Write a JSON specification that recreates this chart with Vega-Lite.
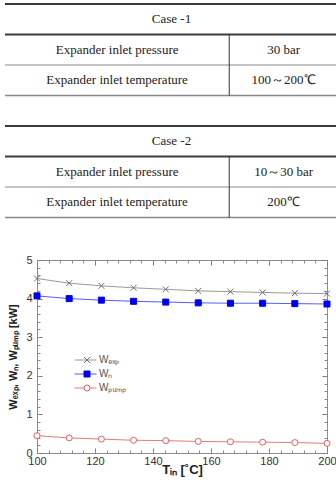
{
  "$schema": "https://vega.github.io/schema/vega-lite/v6.json",
  "padding": {"left": 3, "top": 0, "right": 0, "bottom": 0},
  "spacing": 28,
  "config": {"view": {"stroke": null}, "font": "Liberation Sans"},
  "resolve": {
    "scale": {"color": "independent", "shape": "independent", "fill": "independent", "stroke": "independent"},
    "legend": {"color": "independent", "shape": "independent", "fill": "independent", "stroke": "independent"}
  },
  "datasets": {
    "edges": [
      {"edge": 0, "kind": "heavy"}, {"edge": 1, "kind": "heavy"}, {"edge": 2, "kind": "light"}, {"edge": 3, "kind": "closing"},
      {"edge": 4, "kind": "heavy"}, {"edge": 5, "kind": "heavy"}, {"edge": 6, "kind": "light"}, {"edge": 7, "kind": "closing"}
    ],
    "dividers": [{"from": 1, "to": 3}, {"from": 5, "to": 7}],
    "cells": [
      {"row": 0, "col": "caption", "text": "Case -1"},
      {"row": 1, "col": "name", "text": "Expander inlet pressure"},
      {"row": 1, "col": "value", "text": "30 bar"},
      {"row": 2, "col": "name", "text": "Expander inlet temperature"},
      {"row": 2, "col": "value", "text": "100～200℃"},
      {"row": 4, "col": "caption", "text": "Case -2"},
      {"row": 5, "col": "name", "text": "Expander inlet pressure"},
      {"row": 5, "col": "value", "text": "10～30 bar"},
      {"row": 6, "col": "name", "text": "Expander inlet temperature"},
      {"row": 6, "col": "value", "text": "200℃"}
    ],
    "power": [
      {"T": 100, "series": "Wₑₓₚ", "W": 4.52}, {"T": 111.1, "series": "Wₑₓₚ", "W": 4.40}, {"T": 122.2, "series": "Wₑₓₚ", "W": 4.33},
      {"T": 133.3, "series": "Wₑₓₚ", "W": 4.28}, {"T": 144.4, "series": "Wₑₓₚ", "W": 4.24}, {"T": 155.6, "series": "Wₑₓₚ", "W": 4.20},
      {"T": 166.7, "series": "Wₑₓₚ", "W": 4.18}, {"T": 177.8, "series": "Wₑₓₚ", "W": 4.16}, {"T": 188.9, "series": "Wₑₓₚ", "W": 4.14},
      {"T": 200, "series": "Wₑₓₚ", "W": 4.13},
      {"T": 100, "series": "Wₙ", "W": 4.07}, {"T": 111.1, "series": "Wₙ", "W": 4.00}, {"T": 122.2, "series": "Wₙ", "W": 3.96},
      {"T": 133.3, "series": "Wₙ", "W": 3.93}, {"T": 144.4, "series": "Wₙ", "W": 3.91}, {"T": 155.6, "series": "Wₙ", "W": 3.89},
      {"T": 166.7, "series": "Wₙ", "W": 3.88}, {"T": 177.8, "series": "Wₙ", "W": 3.88}, {"T": 188.9, "series": "Wₙ", "W": 3.87},
      {"T": 200, "series": "Wₙ", "W": 3.86},
      {"T": 100, "series": "Wₚᵤₘₚ", "W": 0.45}, {"T": 111.1, "series": "Wₚᵤₘₚ", "W": 0.39}, {"T": 122.2, "series": "Wₚᵤₘₚ", "W": 0.36},
      {"T": 133.3, "series": "Wₚᵤₘₚ", "W": 0.33}, {"T": 144.4, "series": "Wₚᵤₘₚ", "W": 0.32}, {"T": 155.6, "series": "Wₚᵤₘₚ", "W": 0.30},
      {"T": 166.7, "series": "Wₚᵤₘₚ", "W": 0.29}, {"T": 177.8, "series": "Wₚᵤₘₚ", "W": 0.28}, {"T": 188.9, "series": "Wₚᵤₘₚ", "W": 0.27},
      {"T": 200, "series": "Wₚᵤₘₚ", "W": 0.25}
    ]
  },
  "vconcat": [
    {
      "width": 301,
      "height": 225,
      "layer": [
        {
          "data": {"name": "edges"},
          "transform": [{"filter": "datum.kind === 'heavy'"}],
          "mark": {"type": "rule", "color": "#3a3a3a", "strokeWidth": 2},
          "encoding": {
            "x": {"datum": 0, "type": "quantitative", "scale": {"domain": [0.2883, 3], "nice": false, "zero": false}, "axis": null},
            "x2": {"datum": 3},
            "y": {"field": "edge", "type": "quantitative", "scale": {"domain": [-0.1311, 7.246], "reverse": true, "nice": false, "zero": false}, "axis": null}
          }
        },
        {
          "data": {"name": "edges"},
          "transform": [{"filter": "datum.kind === 'light'"}],
          "mark": {"type": "rule", "color": "#8a8a8a", "strokeWidth": 1},
          "encoding": {
            "x": {"datum": 0, "type": "quantitative"},
            "x2": {"datum": 3},
            "y": {"field": "edge", "type": "quantitative"}
          }
        },
        {
          "data": {"name": "edges"},
          "transform": [{"filter": "datum.kind === 'closing'"}],
          "mark": {"type": "rule", "color": "#888888", "strokeWidth": 1.6},
          "encoding": {
            "x": {"datum": 0, "type": "quantitative"},
            "x2": {"datum": 3},
            "y": {"field": "edge", "type": "quantitative"}
          }
        },
        {
          "data": {"name": "dividers"},
          "mark": {"type": "rule", "color": "#333333", "strokeWidth": 1},
          "encoding": {
            "x": {"datum": 2.02, "type": "quantitative"},
            "y": {"field": "from", "type": "quantitative"},
            "y2": {"field": "to"}
          }
        },
        {
          "data": {"name": "cells"},
          "transform": [{"filter": "datum.col === 'caption'"}],
          "mark": {"type": "text", "font": "Liberation Serif", "fontSize": 13, "color": "#222222", "align": "center", "baseline": "middle", "dy": 15.5},
          "encoding": {
            "x": {"datum": 1.5, "type": "quantitative"},
            "y": {"field": "row", "type": "quantitative"},
            "text": {"field": "text"}
          }
        },
        {
          "data": {"name": "cells"},
          "transform": [{"filter": "datum.col === 'name'"}],
          "mark": {"type": "text", "font": "Liberation Serif", "fontSize": 13, "color": "#222222", "align": "center", "baseline": "middle", "dy": 15.5},
          "encoding": {
            "x": {"datum": 1.01, "type": "quantitative"},
            "y": {"field": "row", "type": "quantitative"},
            "text": {"field": "text"}
          }
        },
        {
          "data": {"name": "cells"},
          "transform": [{"filter": "datum.col === 'value'"}],
          "mark": {"type": "text", "font": "Liberation Serif", "fontSize": 13, "color": "#222222", "align": "center", "baseline": "middle", "dy": 15.5},
          "encoding": {
            "x": {"datum": 2.51, "type": "quantitative"},
            "y": {"field": "row", "type": "quantitative"},
            "text": {"field": "text"}
          }
        }
      ]
    },
    {
      "width": 290,
      "height": 193,
      "view": {"stroke": "#8c8c8c", "strokeWidth": 1},
      "data": {"name": "power"},
      "resolve": {"axis": {"x": "independent", "y": "independent"}},
      "layer": [
        {
          "mark": {"type": "line", "strokeWidth": 1},
          "encoding": {
            "x": {"field": "T", "type": "quantitative", "scale": {"domain": [100, 200], "nice": false, "zero": false},
              "axis": {"orient": "bottom", "values": [100, 120, 140, 160, 180, 200], "format": "d", "tickSize": -5, "tickColor": "#777777", "domain": false, "grid": false,
                "labelFont": "Liberation Sans", "labelFontSize": 11, "labelColor": "#333333", "labelPadding": 7, "labelFlush": false, "labelOverlap": false,
                "title": "Tᵢₙ [˚C]", "titleFont": "Liberation Sans", "titleFontSize": 13, "titleFontWeight": "bold", "titleColor": "#222222", "titlePadding": -3}},
            "y": {"field": "W", "type": "quantitative", "scale": {"domain": [0, 5], "nice": false, "zero": false},
              "axis": {"orient": "left", "values": [0, 1, 2, 3, 4, 5], "tickSize": -5, "tickColor": "#777777", "domain": false, "grid": false,
                "labelFont": "Liberation Sans", "labelFontSize": 11, "labelColor": "#333333", "labelPadding": 10, "labelFlush": false, "labelOverlap": false,
                "title": "Wₑₓₚ,  Wₙ,  Wₚᵤₘₚ [kW]", "titleFont": "Liberation Sans", "titleFontSize": 11, "titleFontWeight": "bold", "titleColor": "#222222", "titlePadding": 7}},
            "color": {"field": "series", "type": "nominal",
              "scale": {"domain": ["Wₑₓₚ", "Wₙ", "Wₚᵤₘₚ"], "range": ["#9a9a9a", "#5a5aff", "#e67a7a"]},
              "legend": {"title": null, "orient": "none", "legendX": 37, "legendY": 95, "symbolType": "stroke", "symbolSize": 484, "symbolStrokeWidth": 1,
                "clipHeight": 10, "labelFont": "Liberation Sans", "labelFontSize": 10, "labelColor": "#555555", "labelOffset": 2, "rowPadding": 4, "padding": 0}}
          }
        },
        {
          "mark": {"type": "point", "filled": true, "size": 36, "strokeWidth": 1, "opacity": 1},
          "encoding": {
            "x": {"field": "T", "type": "quantitative",
              "axis": {"orient": "top", "values": [100, 120, 140, 160, 180, 200], "tickSize": -5, "tickColor": "#777777", "domain": false, "grid": false, "labels": false, "title": null}},
            "y": {"field": "W", "type": "quantitative",
              "axis": {"orient": "right", "values": [0, 1, 2, 3, 4, 5], "tickSize": -5, "tickColor": "#777777", "domain": false, "grid": false, "labels": false, "title": null}},
            "shape": {"field": "series", "type": "nominal",
              "scale": {"range": ["M-1,-1L1,1M-1,1L1,-1", "square", "circle"]},
              "legend": {"title": null, "orient": "none", "legendX": 37, "legendY": 95, "symbolSize": 36, "symbolStrokeWidth": 1, "symbolOffset": 8,
                "clipHeight": 10, "labelFontSize": 10, "labelExpr": "' '", "labelOffset": 2, "rowPadding": 4, "padding": 0, "zindex": 1}},
            "fill": {"field": "series", "type": "nominal", "scale": {"range": ["transparent", "#0000ee", "#ffffff"]}},
            "stroke": {"field": "series", "type": "nominal", "scale": {"range": ["#707070", "#0000ee", "#e06060"]}}
          }
        },
        {
          "mark": {"type": "point", "opacity": 0},
          "encoding": {
            "x": {"field": "T", "type": "quantitative",
              "axis": {"orient": "bottom", "values": [100, 104, 108, 112, 116, 120, 124, 128, 132, 136, 140, 144, 148, 152, 156, 160, 164, 168, 172, 176, 180, 184, 188, 192, 196, 200], "tickSize": -3, "tickColor": "#888888", "domain": false, "grid": false, "labels": false, "title": null}},
            "y": {"field": "W", "type": "quantitative",
              "axis": {"orient": "left", "values": [0, 0.2, 0.4, 0.6, 0.8, 1, 1.2, 1.4, 1.6, 1.8, 2, 2.2, 2.4, 2.6, 2.8, 3, 3.2, 3.4, 3.6, 3.8, 4, 4.2, 4.4, 4.6, 4.8, 5], "tickSize": -3, "tickColor": "#888888", "domain": false, "grid": false, "labels": false, "title": null}}
          }
        },
        {
          "mark": {"type": "point", "opacity": 0},
          "encoding": {
            "x": {"field": "T", "type": "quantitative",
              "axis": {"orient": "top", "values": [100, 104, 108, 112, 116, 120, 124, 128, 132, 136, 140, 144, 148, 152, 156, 160, 164, 168, 172, 176, 180, 184, 188, 192, 196, 200], "tickSize": -3, "tickColor": "#888888", "domain": false, "grid": false, "labels": false, "title": null}},
            "y": {"field": "W", "type": "quantitative",
              "axis": {"orient": "right", "values": [0, 0.2, 0.4, 0.6, 0.8, 1, 1.2, 1.4, 1.6, 1.8, 2, 2.2, 2.4, 2.6, 2.8, 3, 3.2, 3.4, 3.6, 3.8, 4, 4.2, 4.4, 4.6, 4.8, 5], "tickSize": -3, "tickColor": "#888888", "domain": false, "grid": false, "labels": false, "title": null}}
          }
        }
      ]
    }
  ]
}
